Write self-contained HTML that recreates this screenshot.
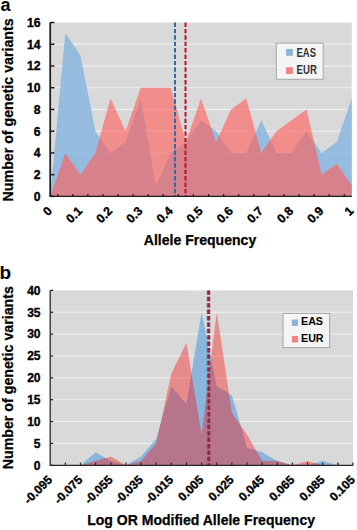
<!DOCTYPE html>
<html><head><meta charset="utf-8"><style>
html,body{margin:0;padding:0;background:#fff;}
body{width:357px;height:530px;overflow:hidden;}
svg{display:block;}
text{font-family:"Liberation Sans", sans-serif;font-weight:bold;fill:#000;}
.tl{stroke:#000;stroke-width:0.35px;}

.tt{stroke:#000;stroke-width:0.25px;}
.pl{font-size:18px;}
</style></head><body>
<svg width="357" height="530" viewBox="0 0 357 530">
<text x="0.5" y="10.5" class="pl">a</text>
<rect x="50.2" y="22.5" width="301.6" height="173.9" fill="#d9d9d9"/>
<line x1="50.2" x2="351.8" y1="174.66" y2="174.66" stroke="#f2f2f2" stroke-width="1"/>
<line x1="50.2" x2="351.8" y1="152.93" y2="152.93" stroke="#f2f2f2" stroke-width="1"/>
<line x1="50.2" x2="351.8" y1="131.19" y2="131.19" stroke="#f2f2f2" stroke-width="1"/>
<line x1="50.2" x2="351.8" y1="109.45" y2="109.45" stroke="#f2f2f2" stroke-width="1"/>
<line x1="50.2" x2="351.8" y1="87.71" y2="87.71" stroke="#f2f2f2" stroke-width="1"/>
<line x1="50.2" x2="351.8" y1="65.97" y2="65.97" stroke="#f2f2f2" stroke-width="1"/>
<line x1="50.2" x2="351.8" y1="44.24" y2="44.24" stroke="#f2f2f2" stroke-width="1"/>
<polygon points="50.2,196.4 50.2,196.4 65.28,33.37 80.36,55.11 95.44,131.19 110.52,152.93 125.6,142.06 140.68,98.58 155.76,185.53 170.84,152.93 185.92,142.06 201,120.32 216.08,131.19 231.16,152.93 246.24,152.93 261.32,120.32 276.4,152.93 291.48,152.93 306.56,131.19 321.64,152.93 336.72,142.06 351.8,98.58 351.8,196.4" fill="rgb(126,177,224)" fill-opacity="0.75"/>
<polygon points="50.2,196.4 50.2,196.4 65.28,152.93 80.36,174.66 95.44,152.93 110.52,98.58 125.6,131.19 140.68,87.71 155.76,87.71 170.84,87.71 185.92,142.06 201,98.58 216.08,142.06 231.16,109.45 246.24,98.58 261.32,152.93 276.4,131.19 291.48,120.32 306.56,109.45 321.64,174.66 336.72,163.79 351.8,185.53 351.8,196.4" fill="rgb(255,94,90)" fill-opacity="0.62"/>
<line x1="175" x2="175" y1="22.5" y2="196.4" stroke="#2b6cab" stroke-width="2" stroke-dasharray="4.4 2"/>
<line x1="185.5" x2="185.5" y1="22.5" y2="196.4" stroke="#b5122c" stroke-width="2" stroke-dasharray="4.4 2"/>
<line x1="50.2" x2="50.2" y1="22.5" y2="196.4" stroke="#1a1a1a" stroke-width="1.7"/>
<line x1="49.35" x2="351.8" y1="196.4" y2="196.4" stroke="#1a1a1a" stroke-width="1.2"/>
<line x1="50.2" x2="54.4" y1="196.4" y2="196.4" stroke="#1a1a1a" stroke-width="1.5"/>
<text x="40.5" y="200.79" text-anchor="end" class="tl" font-size="12.2">0</text>
<line x1="50.2" x2="54.4" y1="174.66" y2="174.66" stroke="#1a1a1a" stroke-width="1.5"/>
<text x="40.5" y="179.05" text-anchor="end" class="tl" font-size="12.2">2</text>
<line x1="50.2" x2="54.4" y1="152.93" y2="152.93" stroke="#1a1a1a" stroke-width="1.5"/>
<text x="40.5" y="157.32" text-anchor="end" class="tl" font-size="12.2">4</text>
<line x1="50.2" x2="54.4" y1="131.19" y2="131.19" stroke="#1a1a1a" stroke-width="1.5"/>
<text x="40.5" y="135.58" text-anchor="end" class="tl" font-size="12.2">6</text>
<line x1="50.2" x2="54.4" y1="109.45" y2="109.45" stroke="#1a1a1a" stroke-width="1.5"/>
<text x="40.5" y="113.84" text-anchor="end" class="tl" font-size="12.2">8</text>
<line x1="50.2" x2="54.4" y1="87.71" y2="87.71" stroke="#1a1a1a" stroke-width="1.5"/>
<text x="40.5" y="92.1" text-anchor="end" class="tl" font-size="12.2">10</text>
<line x1="50.2" x2="54.4" y1="65.97" y2="65.97" stroke="#1a1a1a" stroke-width="1.5"/>
<text x="40.5" y="70.37" text-anchor="end" class="tl" font-size="12.2">12</text>
<line x1="50.2" x2="54.4" y1="44.24" y2="44.24" stroke="#1a1a1a" stroke-width="1.5"/>
<text x="40.5" y="48.63" text-anchor="end" class="tl" font-size="12.2">14</text>
<line x1="50.2" x2="54.4" y1="22.5" y2="22.5" stroke="#1a1a1a" stroke-width="1.5"/>
<text x="40.5" y="26.89" text-anchor="end" class="tl" font-size="12.2">16</text>
<line x1="57.74" x2="57.74" y1="196.4" y2="194" stroke="#1a1a1a" stroke-width="1.2"/>
<line x1="72.82" x2="72.82" y1="196.4" y2="194" stroke="#1a1a1a" stroke-width="1.2"/>
<line x1="87.9" x2="87.9" y1="196.4" y2="194" stroke="#1a1a1a" stroke-width="1.2"/>
<line x1="102.98" x2="102.98" y1="196.4" y2="194" stroke="#1a1a1a" stroke-width="1.2"/>
<line x1="118.06" x2="118.06" y1="196.4" y2="194" stroke="#1a1a1a" stroke-width="1.2"/>
<line x1="133.14" x2="133.14" y1="196.4" y2="194" stroke="#1a1a1a" stroke-width="1.2"/>
<line x1="148.22" x2="148.22" y1="196.4" y2="194" stroke="#1a1a1a" stroke-width="1.2"/>
<line x1="163.3" x2="163.3" y1="196.4" y2="194" stroke="#1a1a1a" stroke-width="1.2"/>
<line x1="178.38" x2="178.38" y1="196.4" y2="194" stroke="#1a1a1a" stroke-width="1.2"/>
<line x1="193.46" x2="193.46" y1="196.4" y2="194" stroke="#1a1a1a" stroke-width="1.2"/>
<line x1="208.54" x2="208.54" y1="196.4" y2="194" stroke="#1a1a1a" stroke-width="1.2"/>
<line x1="223.62" x2="223.62" y1="196.4" y2="194" stroke="#1a1a1a" stroke-width="1.2"/>
<line x1="238.7" x2="238.7" y1="196.4" y2="194" stroke="#1a1a1a" stroke-width="1.2"/>
<line x1="253.78" x2="253.78" y1="196.4" y2="194" stroke="#1a1a1a" stroke-width="1.2"/>
<line x1="268.86" x2="268.86" y1="196.4" y2="194" stroke="#1a1a1a" stroke-width="1.2"/>
<line x1="283.94" x2="283.94" y1="196.4" y2="194" stroke="#1a1a1a" stroke-width="1.2"/>
<line x1="299.02" x2="299.02" y1="196.4" y2="194" stroke="#1a1a1a" stroke-width="1.2"/>
<line x1="314.1" x2="314.1" y1="196.4" y2="194" stroke="#1a1a1a" stroke-width="1.2"/>
<line x1="329.18" x2="329.18" y1="196.4" y2="194" stroke="#1a1a1a" stroke-width="1.2"/>
<line x1="344.26" x2="344.26" y1="196.4" y2="194" stroke="#1a1a1a" stroke-width="1.2"/>
<text transform="translate(52.8,211.8) rotate(-45)" text-anchor="end" class="tl" font-size="12.2">0</text>
<text transform="translate(82.96,211.8) rotate(-45)" text-anchor="end" class="tl" font-size="12.2">0.1</text>
<text transform="translate(113.12,211.8) rotate(-45)" text-anchor="end" class="tl" font-size="12.2">0.2</text>
<text transform="translate(143.28,211.8) rotate(-45)" text-anchor="end" class="tl" font-size="12.2">0.3</text>
<text transform="translate(173.44,211.8) rotate(-45)" text-anchor="end" class="tl" font-size="12.2">0.4</text>
<text transform="translate(203.6,211.8) rotate(-45)" text-anchor="end" class="tl" font-size="12.2">0.5</text>
<text transform="translate(233.76,211.8) rotate(-45)" text-anchor="end" class="tl" font-size="12.2">0.6</text>
<text transform="translate(263.92,211.8) rotate(-45)" text-anchor="end" class="tl" font-size="12.2">0.7</text>
<text transform="translate(294.08,211.8) rotate(-45)" text-anchor="end" class="tl" font-size="12.2">0.8</text>
<text transform="translate(324.24,211.8) rotate(-45)" text-anchor="end" class="tl" font-size="12.2">0.9</text>
<text transform="translate(354.4,211.8) rotate(-45)" text-anchor="end" class="tl" font-size="12.2">1</text>
<rect x="276.3" y="43.1" width="46.9" height="36.2" fill="#f5f5f5" stroke="#a6a6a6" stroke-width="1"/>
<rect x="286.1" y="49" width="6.7" height="6.8" fill="rgb(140,179,213)"/>
<rect x="286.1" y="67.2" width="6.7" height="6.8" fill="rgb(245,128,132)"/>
<text x="296.6" y="56.5" style="font-size:12.2px;fill:#333333" textLength="19.3" lengthAdjust="spacingAndGlyphs">EAS</text>
<text x="296.6" y="74.4" style="font-size:12.2px;fill:#333333" textLength="20.2" lengthAdjust="spacingAndGlyphs">EUR</text>
<text transform="translate(13.1,201.4) rotate(-90)" x="0" y="0" class="tt" font-size="15" textLength="183" lengthAdjust="spacingAndGlyphs">Number of genetic variants</text>
<text x="143.8" y="244.9" class="tt" font-size="14.6" textLength="112.4" lengthAdjust="spacingAndGlyphs">Allele Frequency</text>
<text x="-0.6" y="278.6" class="pl" style="font-size:19px">b</text>
<rect x="50.2" y="290.4" width="302.8" height="174.9" fill="#d9d9d9"/>
<line x1="50.2" x2="353" y1="443.44" y2="443.44" stroke="#f2f2f2" stroke-width="1"/>
<line x1="50.2" x2="353" y1="421.57" y2="421.57" stroke="#f2f2f2" stroke-width="1"/>
<line x1="50.2" x2="353" y1="399.71" y2="399.71" stroke="#f2f2f2" stroke-width="1"/>
<line x1="50.2" x2="353" y1="377.85" y2="377.85" stroke="#f2f2f2" stroke-width="1"/>
<line x1="50.2" x2="353" y1="355.99" y2="355.99" stroke="#f2f2f2" stroke-width="1"/>
<line x1="50.2" x2="353" y1="334.12" y2="334.12" stroke="#f2f2f2" stroke-width="1"/>
<line x1="50.2" x2="353" y1="312.26" y2="312.26" stroke="#f2f2f2" stroke-width="1"/>
<polygon points="50.2,465.3 50.2,465.3 65.34,465.3 80.48,465.3 95.62,452.18 110.76,460.93 125.9,465.3 141.04,456.56 156.18,439.06 171.32,386.6 186.46,404.09 201.6,312.26 216.74,386.6 231.88,395.34 247.02,447.81 262.16,452.18 277.3,460.93 292.44,465.3 307.58,465.3 322.72,460.93 337.86,465.3 353,465.3 353,465.3" fill="rgb(109,170,218)" fill-opacity="0.75"/>
<polygon points="50.2,465.3 50.2,465.3 65.34,465.3 80.48,465.3 95.62,460.93 110.76,456.56 125.9,465.3 141.04,460.93 156.18,443.44 171.32,373.48 186.46,342.87 201.6,434.69 216.74,312.26 231.88,412.83 247.02,434.69 262.16,460.93 277.3,460.93 292.44,465.3 307.58,460.93 322.72,465.3 337.86,465.3 353,465.3 353,465.3" fill="rgb(255,10,10)" fill-opacity="0.38"/>
<line x1="207.8" x2="207.8" y1="290.4" y2="465.3" stroke="#2b6cab" stroke-width="2" stroke-dasharray="4.4 2"/>
<line x1="209.2" x2="209.2" y1="290.4" y2="465.3" stroke="#b5122c" stroke-width="2" stroke-dasharray="4.4 2"/>
<line x1="50.2" x2="50.2" y1="290.4" y2="465.3" stroke="#262626" stroke-width="1.3"/>
<line x1="49.55" x2="353" y1="465.3" y2="465.3" stroke="#262626" stroke-width="1.3"/>
<line x1="50.2" x2="53.2" y1="465.3" y2="465.3" stroke="#262626" stroke-width="1.2"/>
<text x="40.5" y="469.62" text-anchor="end" class="tl" font-size="12">0</text>
<line x1="50.2" x2="53.2" y1="443.44" y2="443.44" stroke="#262626" stroke-width="1.2"/>
<text x="40.5" y="447.76" text-anchor="end" class="tl" font-size="12">5</text>
<line x1="50.2" x2="53.2" y1="421.57" y2="421.57" stroke="#262626" stroke-width="1.2"/>
<text x="40.5" y="425.89" text-anchor="end" class="tl" font-size="12">10</text>
<line x1="50.2" x2="53.2" y1="399.71" y2="399.71" stroke="#262626" stroke-width="1.2"/>
<text x="40.5" y="404.03" text-anchor="end" class="tl" font-size="12">15</text>
<line x1="50.2" x2="53.2" y1="377.85" y2="377.85" stroke="#262626" stroke-width="1.2"/>
<text x="40.5" y="382.17" text-anchor="end" class="tl" font-size="12">20</text>
<line x1="50.2" x2="53.2" y1="355.99" y2="355.99" stroke="#262626" stroke-width="1.2"/>
<text x="40.5" y="360.31" text-anchor="end" class="tl" font-size="12">25</text>
<line x1="50.2" x2="53.2" y1="334.12" y2="334.12" stroke="#262626" stroke-width="1.2"/>
<text x="40.5" y="338.44" text-anchor="end" class="tl" font-size="12">30</text>
<line x1="50.2" x2="53.2" y1="312.26" y2="312.26" stroke="#262626" stroke-width="1.2"/>
<text x="40.5" y="316.58" text-anchor="end" class="tl" font-size="12">35</text>
<line x1="50.2" x2="53.2" y1="290.4" y2="290.4" stroke="#262626" stroke-width="1.2"/>
<text x="40.5" y="294.72" text-anchor="end" class="tl" font-size="12">40</text>
<line x1="65.34" x2="65.34" y1="465.3" y2="462.5" stroke="#262626" stroke-width="1.2"/>
<line x1="80.48" x2="80.48" y1="465.3" y2="462.5" stroke="#262626" stroke-width="1.2"/>
<line x1="95.62" x2="95.62" y1="465.3" y2="462.5" stroke="#262626" stroke-width="1.2"/>
<line x1="110.76" x2="110.76" y1="465.3" y2="462.5" stroke="#262626" stroke-width="1.2"/>
<line x1="125.9" x2="125.9" y1="465.3" y2="462.5" stroke="#262626" stroke-width="1.2"/>
<line x1="141.04" x2="141.04" y1="465.3" y2="462.5" stroke="#262626" stroke-width="1.2"/>
<line x1="156.18" x2="156.18" y1="465.3" y2="462.5" stroke="#262626" stroke-width="1.2"/>
<line x1="171.32" x2="171.32" y1="465.3" y2="462.5" stroke="#262626" stroke-width="1.2"/>
<line x1="186.46" x2="186.46" y1="465.3" y2="462.5" stroke="#262626" stroke-width="1.2"/>
<line x1="201.6" x2="201.6" y1="465.3" y2="462.5" stroke="#262626" stroke-width="1.2"/>
<line x1="216.74" x2="216.74" y1="465.3" y2="462.5" stroke="#262626" stroke-width="1.2"/>
<line x1="231.88" x2="231.88" y1="465.3" y2="462.5" stroke="#262626" stroke-width="1.2"/>
<line x1="247.02" x2="247.02" y1="465.3" y2="462.5" stroke="#262626" stroke-width="1.2"/>
<line x1="262.16" x2="262.16" y1="465.3" y2="462.5" stroke="#262626" stroke-width="1.2"/>
<line x1="277.3" x2="277.3" y1="465.3" y2="462.5" stroke="#262626" stroke-width="1.2"/>
<line x1="292.44" x2="292.44" y1="465.3" y2="462.5" stroke="#262626" stroke-width="1.2"/>
<line x1="307.58" x2="307.58" y1="465.3" y2="462.5" stroke="#262626" stroke-width="1.2"/>
<line x1="322.72" x2="322.72" y1="465.3" y2="462.5" stroke="#262626" stroke-width="1.2"/>
<line x1="337.86" x2="337.86" y1="465.3" y2="462.5" stroke="#262626" stroke-width="1.2"/>
<line x1="353" x2="353" y1="465.3" y2="462.5" stroke="#262626" stroke-width="1.2"/>
<text transform="translate(52.9,480.6) rotate(-45)" text-anchor="end" class="tl" font-size="12">-0.095</text>
<text transform="translate(83.18,480.6) rotate(-45)" text-anchor="end" class="tl" font-size="12">-0.075</text>
<text transform="translate(113.46,480.6) rotate(-45)" text-anchor="end" class="tl" font-size="12">-0.055</text>
<text transform="translate(143.74,480.6) rotate(-45)" text-anchor="end" class="tl" font-size="12">-0.035</text>
<text transform="translate(174.02,480.6) rotate(-45)" text-anchor="end" class="tl" font-size="12">-0.015</text>
<text transform="translate(204.3,480.6) rotate(-45)" text-anchor="end" class="tl" font-size="12">0.005</text>
<text transform="translate(234.58,480.6) rotate(-45)" text-anchor="end" class="tl" font-size="12">0.025</text>
<text transform="translate(264.86,480.6) rotate(-45)" text-anchor="end" class="tl" font-size="12">0.045</text>
<text transform="translate(295.14,480.6) rotate(-45)" text-anchor="end" class="tl" font-size="12">0.065</text>
<text transform="translate(325.42,480.6) rotate(-45)" text-anchor="end" class="tl" font-size="12">0.085</text>
<text transform="translate(355.7,480.6) rotate(-45)" text-anchor="end" class="tl" font-size="12">0.105</text>
<rect x="283" y="313.4" width="46.6" height="34.2" fill="#f5f5f5" stroke="#a6a6a6" stroke-width="1"/>
<rect x="291.8" y="319.5" width="6.3" height="6.4" fill="rgb(140,179,213)"/>
<rect x="291.8" y="336" width="6.3" height="6.4" fill="rgb(245,128,132)"/>
<text x="301" y="325.4" style="font-size:11px;fill:#000" textLength="22" lengthAdjust="spacingAndGlyphs">EAS</text>
<text x="301" y="342.1" style="font-size:11px;fill:#000" textLength="22.6" lengthAdjust="spacingAndGlyphs">EUR</text>
<text transform="translate(13.1,469.3) rotate(-90)" x="0" y="0" class="tt" font-size="15" textLength="183.2" lengthAdjust="spacingAndGlyphs">Number of genetic variants</text>
<text x="87.2" y="524.9" class="tt" font-size="14.5" textLength="227.8" lengthAdjust="spacingAndGlyphs">Log OR Modified Allele Frequency</text>
</svg>
</body></html>
